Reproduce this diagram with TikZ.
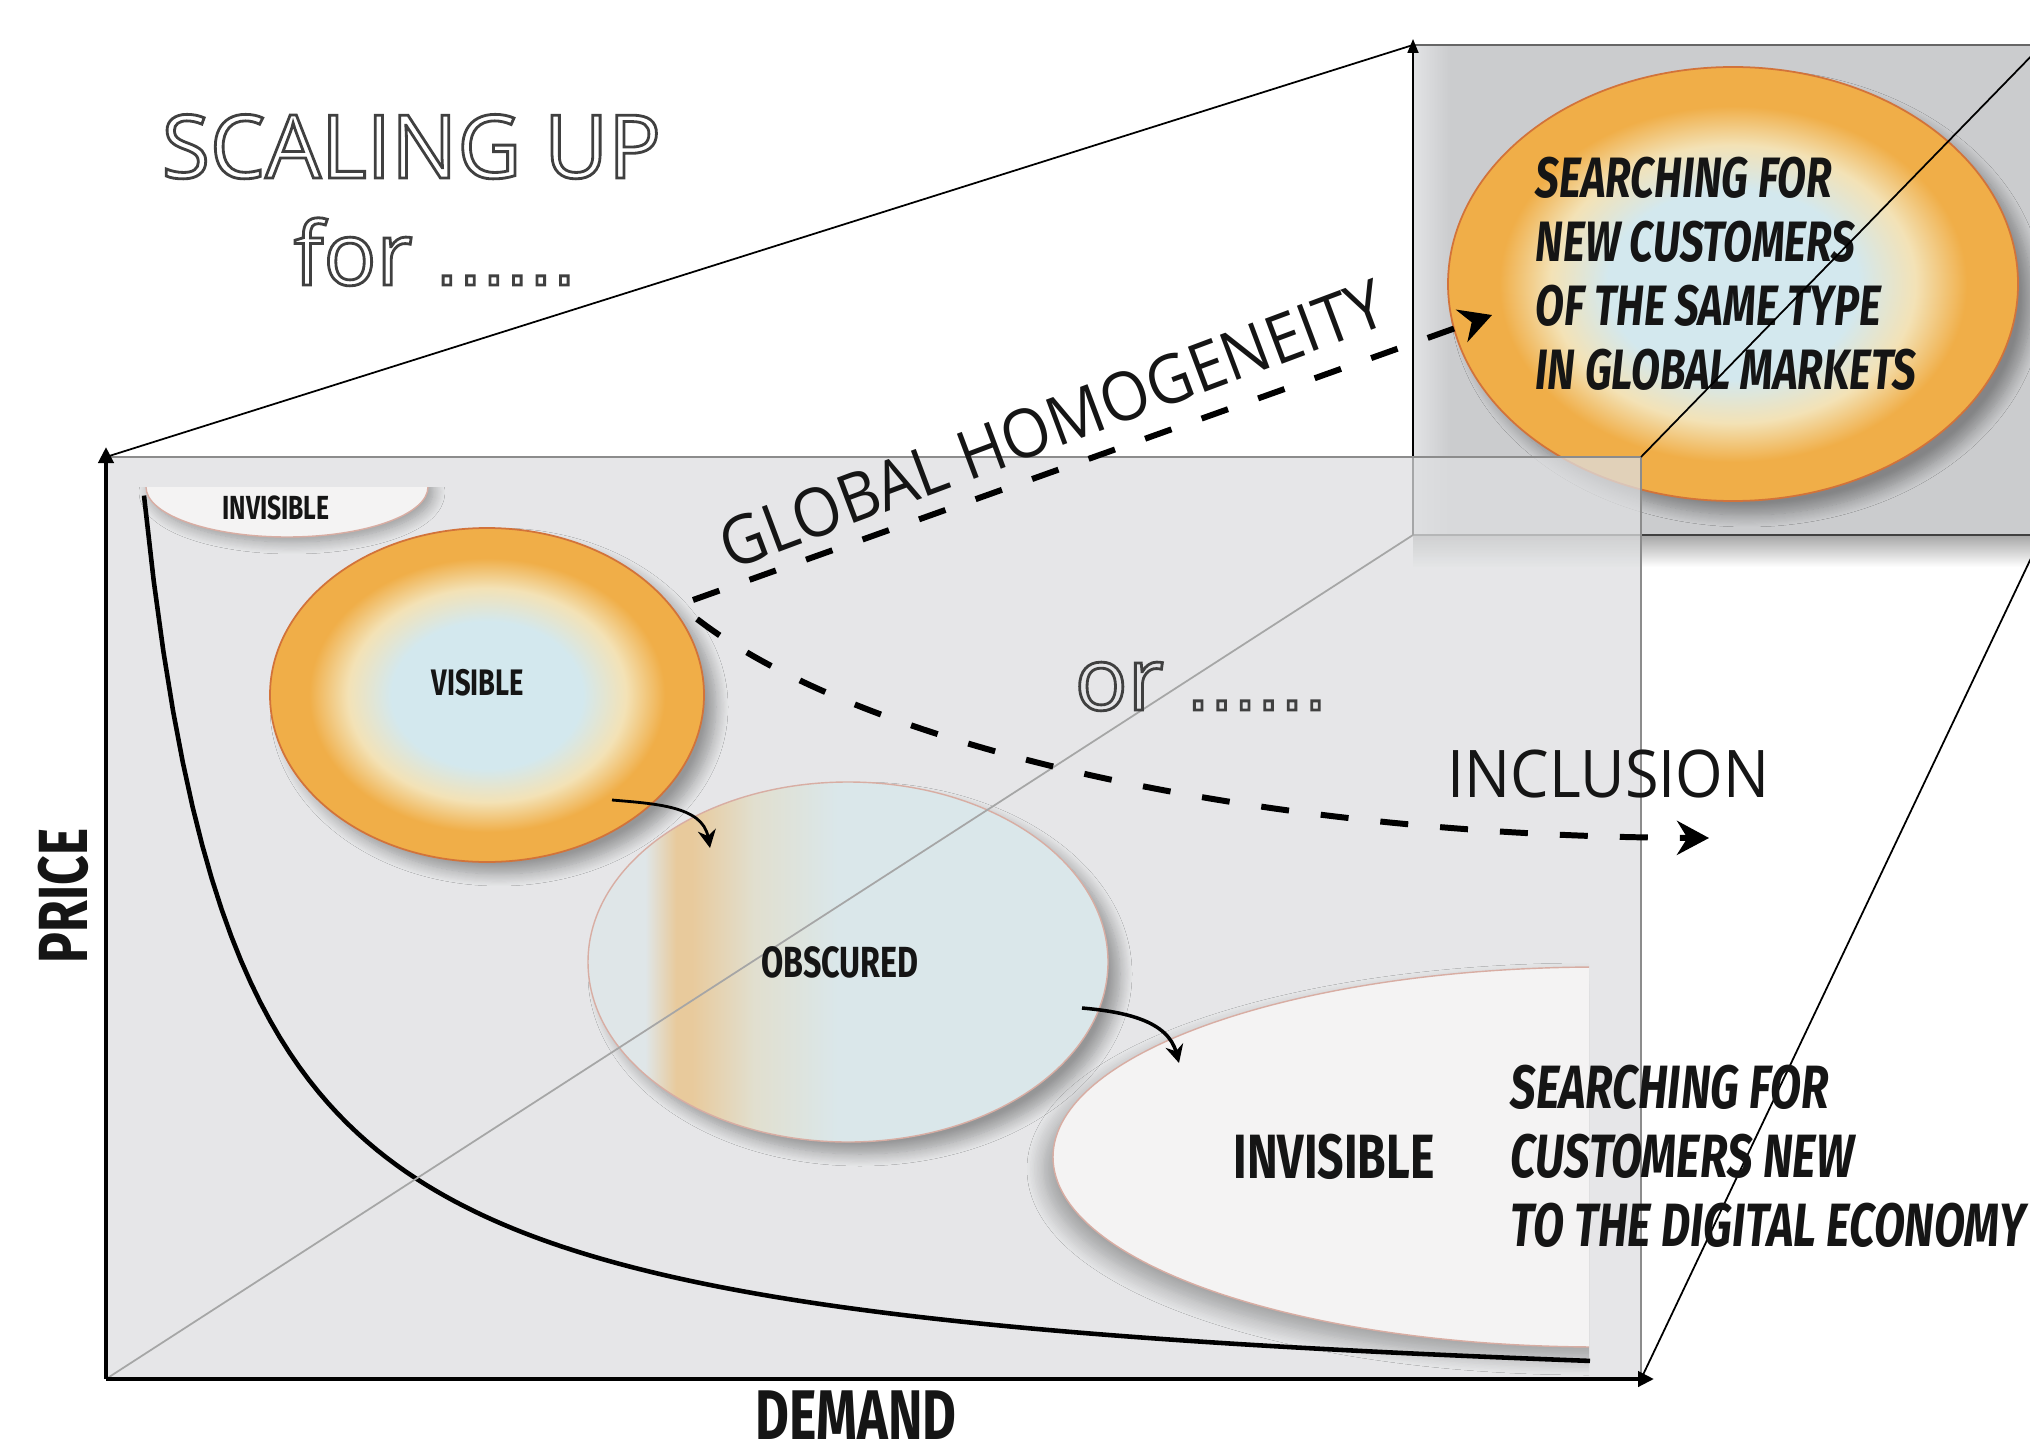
\documentclass[tikz,border=0pt]{standalone}
\usepackage{fontspec}
\usetikzlibrary{arrows.meta,shapes.geometric,shadows.blur,fadings}

\setmainfont{Open Sans}
\newfontfamily\condfont[FakeStretch=0.74]{Fira Sans}
\newfontfamily\lightfont[FakeStretch=0.93]{Open Sans}
\newfontfamily\dotfont{DejaVu Sans}

% outlined letters (stroke only)
\newcommand\hollow[1]{\special{pdf:literal direct 1 Tr 0.8 w}#1\special{pdf:literal direct 0 Tr}}
\newcommand\dotrow{{\dotfont\fontsize{21}{25}\selectfont ......}}

\definecolor{facegray}{HTML}{DDDEE0}
\definecolor{backgray}{HTML}{CBCCCE}
\definecolor{backlight}{HTML}{E2E3E5}
\definecolor{paleblue}{HTML}{D3E8EE}
\definecolor{cream}{HTML}{F3E2B6}
\definecolor{sunorange}{HTML}{F0AE48}
\definecolor{rimorange}{HTML}{D2733A}
\definecolor{rimpink}{HTML}{D8ADA3}
\definecolor{ghost}{HTML}{F4F3F3}
\definecolor{obsedge}{HTML}{DFE6E8}
\definecolor{obstan}{HTML}{E8CA9C}
\definecolor{obsmid}{HTML}{E1DFCF}
\definecolor{obsblue}{HTML}{DAE7EA}
\definecolor{inkblack}{HTML}{151515}

\pgfdeclareradialshading{sunglow}{\pgfpointorigin}{%
  color(0bp)=(paleblue); color(11bp)=(paleblue); color(16bp)=(cream);
  color(20.5bp)=(sunorange); color(25bp)=(sunorange); color(50bp)=(sunorange)}
\pgfdeclarehorizontalshading{obscurefade}{100bp}{%
  color(0bp)=(obsedge); color(30.5bp)=(obsedge); color(33.5bp)=(obstan);
  color(35bp)=(obstan); color(41bp)=(obsmid); color(49bp)=(obsblue);
  color(100bp)=(obsblue)}
\tikzfading[name=fadedown, top color=transparent!0, bottom color=transparent!100]

\begin{document}
\begin{tikzpicture}[
    blob/.style={ellipse, inner sep=0pt},
    glow/.style={blob, shading=sunglow, draw=rimorange, line width=0.5pt},
    ghostblob/.style={blob, fill=ghost, draw=rimpink, line width=0.4pt},
    softshadow/.style={blur shadow={shadow xshift=#1, shadow yshift=-#1,
        shadow blur radius=1.2mm, shadow blur steps=12, shadow opacity=35}},
    cond/.style 2 args={inner sep=0pt, text=inkblack,
        font=\condfont\bfseries\fontsize{#1}{#2}\selectfont},
    tag/.style 2 args={inner sep=0pt, align=left, anchor=west, text=inkblack,
        font=\condfont\bfseries\itshape\fontsize{#1}{#2}\selectfont},
    light/.style={inner sep=0pt, text=inkblack, font=\lightfont\fontsize{#1}{#1}\selectfont},
    outlined/.style={inner sep=0pt, anchor=base west, text=black!75,
        font=\fontsize{25}{30}\selectfont},
    frame/.style={line width=0.5pt},
    axis/.style={line width=1.4pt, -{Triangle[length=1.6mm,width=1.5mm]}},
    dasharrow/.style={line width=1.7pt, dash pattern=on 2.8mm off 3.2mm,
        -{Stealth[length=3.2mm,width=3.4mm]}},
    smallarrow/.style={line width=0.8pt, -{Stealth[length=1.8mm,width=1.8mm]}},
  ]
	\useasboundingbox (0,0) rectangle (20.30,14.51);

	% back panel
	\coordinate (btl) at (14.13,14.06);
	\coordinate (bbl) at (14.13,9.16);
	\coordinate (btr) at (20.42,14.06);
	\coordinate (bbr) at (20.42,9.16);
	\coordinate (btip) at (14.13,14.12);
	\fill[backgray] (bbl) rectangle (btr);
	\fill[left color=backlight, right color=backgray] (bbl) rectangle (14.50,14.06);
	\fill[black, opacity=0.35, path fading=fadedown] (14.13,8.84) rectangle (bbr);
	\draw[frame, black!60] (btl) -- (btr);
	\draw[frame, black!75, line width=0.8pt] (bbl) -- (bbr);
	\draw[frame, -{Triangle[length=1.4mm,width=1.1mm]}] (bbl) -- (btip);

	% global markets
	\node[glow, softshadow=1.4mm, minimum width=5.70cm, minimum height=4.34cm] at (17.33,11.67) (market) {};
	\node[tag={16.2}{18.2}] at (15.35,11.77) (markettext) {SEARCHING FOR\\NEW CUSTOMERS\\OF THE SAME TYPE\\IN GLOBAL MARKETS};

	% front panel
	\coordinate (ftl) at (1.06,9.94);
	\coordinate (fbl) at (1.06,0.72);
	\coordinate (ftr) at (16.41,9.94);
	\coordinate (fbr) at (16.41,0.72);
	\coordinate (ytip) at (1.06,10.04);
	\coordinate (xtip) at (16.54,0.72);
	\fill[facegray, opacity=0.75] (fbl) rectangle (ftr);
	\draw[frame, black!45] (ftl) -- (ftr) -- (fbr);

	% edges between the panels
	\draw[frame] (ftl) -- (btl);
	\draw[frame] (ftr) -- (btr);
	\draw[frame] (fbr) -- (bbr);

	% invisible, top
	\begin{scope}
		\clip (1.30,8.50) rectangle (4.60,9.64);
		\node[ghostblob, softshadow=0.5mm, minimum width=2.82cm, minimum height=1.00cm] at (2.87,9.64) (invtop) {};
	\end{scope}

	% visible
	\node[glow, softshadow=1.2mm, minimum width=4.34cm, minimum height=3.34cm] at (4.87,7.56) (vis) {};

	% obscured
	\node[blob, shading=obscurefade, draw=rimpink, line width=0.4pt, softshadow=1.2mm,
		minimum width=5.20cm, minimum height=3.60cm] at (8.48,4.89) (obs) {};

	% demand curve
	\draw[line width=1.3pt] plot[domain=1.44:15.90, samples=150] (\x, {0.33+8.80/(\x-0.486)});

	% invisible, bottom right
	\begin{scope}
		\clip (10.00,0.75) rectangle (15.89,5.10);
		\node[ghostblob, blur shadow={shadow xshift=-1mm, shadow yshift=-1.2mm,
			shadow blur radius=1.6mm, shadow blur steps=12, shadow opacity=30},
			minimum width=10.94cm, minimum height=3.80cm] at (16.00,2.94) (invbig) {};
	\end{scope}

	% diagonal across the front
	\draw[frame, black!35] (fbl) -- (bbl);

	% axes
	\draw[axis] (fbl) -- (ytip);
	\draw[axis] (fbl) -- (xtip);

	% moves between the groups
	\coordinate (visout) at (6.12,6.51);
	\coordinate (obsin) at (7.10,6.03);
	\coordinate (obsout) at (10.82,4.43);
	\coordinate (invin) at (11.79,3.88);
	\draw[smallarrow] (visout) to[out=-5,in=100] (obsin);
	\draw[smallarrow, line width=1pt] (obsout) to[out=-5,in=105] (invin);

	\coordinate (globstart) at (6.93,8.51);
	\coordinate (globend) at (14.92,11.36);
	\coordinate (inclstart) at (6.97,8.32);
	\coordinate (inclend) at (17.09,6.13);
	\draw[dasharrow] (globstart) -- (globend);
	\draw[dasharrow] (inclstart) .. controls (8.60,7.06) and (12.50,6.15) .. (inclend);

	% labels
	\node[cond={9.5}{9.5}] at (2.76,9.43) (invtoplabel) {INVISIBLE};
	\node[cond={10.5}{10.5}] at (4.78,7.68) (vislabel) {VISIBLE};
	\node[cond={12.4}{12.4}] at (8.40,4.89) (obslabel) {OBSCURED};
	\node[cond={17.8}{17.8}] at (13.34,2.94) (invbiglabel) {INVISIBLE};
	\node[tag={17.4}{19.6}] at (15.10,2.95) (newtext) {SEARCHING FOR\\CUSTOMERS NEW\\TO THE DIGITAL ECONOMY};
	\node[cond={19.8}{19.8}, rotate=90] at (0.63,5.55) (price) {PRICE};
	\node[cond={20}{20}] at (8.56,0.36) (demand) {DEMAND};
	\node[light=18.7] at (16.085,6.775) (incl) {INCLUSION};
	\node[light=19.2, rotate=20.5] at (10.52,10.27) (homog) {GLOBAL HOMOGENEITY};

	% outlined headings
	\node[outlined] at (1.61,12.73) (title) {\hollow{SCALING UP}};
	\node[outlined] at (2.93,11.66) (titlefor) {\hollow{for \dotrow}};
	\node[outlined] at (10.74,7.41) (ortext) {\hollow{or \dotrow}};

\end{tikzpicture}
\end{document}
